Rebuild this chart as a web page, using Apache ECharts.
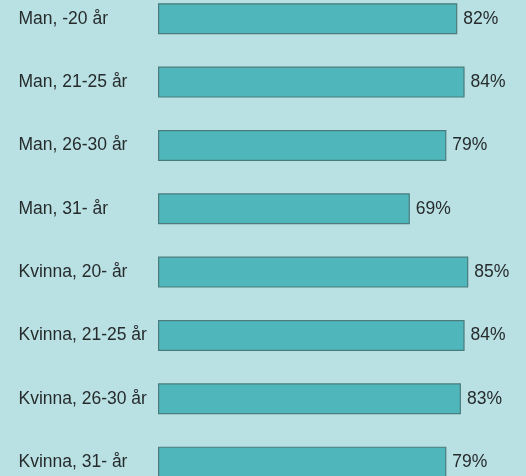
<!DOCTYPE html>
<html>
<head>
<meta charset="utf-8">
<script src="https://cdn.jsdelivr.net/npm/echarts@6/dist/echarts.min.js"></script>
<style>
html,body{margin:0;padding:0;background:#b9e0e3;overflow:hidden;}
#wrap{position:relative;width:526px;height:476px;overflow:hidden;}
#c{position:absolute;left:0;top:-13px;width:526px;height:507px;}
</style>
</head>
<body>
<div id="wrap"><div id="c"></div></div>
<script>
const categories = ["Man, -20 år","Man, 21-25 år","Man, 26-30 år","Man, 31- år","Kvinna, 20- år","Kvinna, 21-25 år","Kvinna, 26-30 år","Kvinna, 31- år"];
const values = [82, 84, 79, 69, 85, 84, 83, 79];

const chart = echarts.init(document.getElementById('c'), null, {renderer:'canvas'});
chart.setOption({
  backgroundColor: '#b9e0e3',
  animation: false,
  grid: {left: 158, width: 365, top: 0.1, height: 506.7, containLabel: false},
  xAxis: {type:'value', min:0, max:100, show:false},
  yAxis: {
    type:'category', data: categories, inverse: true,
    axisLine:{show:false}, axisTick:{show:false}, splitLine:{show:false},
    axisLabel:{align:'left', margin:139.5, color:'#262b2c', fontFamily:'Liberation Sans, Arial, sans-serif', fontSize:17.5}
  },
  series: [{
    type:'bar', data: values, barWidth: 31,
    itemStyle:{color:'#4fb7bb', borderColor:'#4a7c7e', borderWidth:1.2},
    label:{show:true, position:'right', distance:6, formatter:'{c}%', color:'#262b2c', fontFamily:'Liberation Sans, Arial, sans-serif', fontSize:17.5}
  }]
});
</script>
</body>
</html>
